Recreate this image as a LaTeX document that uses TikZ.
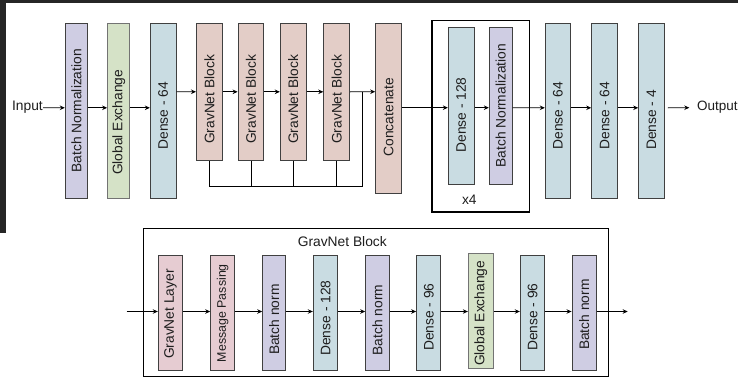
\documentclass[tikz,border=0pt]{standalone}
\usepackage{fontspec}
\setmainfont{Liberation Sans}
\usetikzlibrary{arrows.meta}
\definecolor{cbn}{HTML}{CFCDE3}
\definecolor{cge}{HTML}{D5E2C7}
\definecolor{cde}{HTML}{C9DCE2}
\definecolor{cgn}{HTML}{E3CDC7}
\definecolor{cgl}{HTML}{E6CCD2}
\definecolor{cbd}{HTML}{404040}
\definecolor{ctx}{HTML}{1E1E1E}
\begin{document}
\begin{tikzpicture}[x=1pt,y=-1pt,
  blk/.style={draw=cbd,line width=1pt,minimum width=#1,minimum height=175pt,inner sep=0pt,anchor=center},
  blk/.default=25pt,
  txt/.style={rotate=90,font=\fontsize{13.8}{15}\selectfont,text=ctx,inner sep=0pt},
  lbl/.style={font=\fontsize{13.8}{15}\selectfont,text=ctx,inner sep=0pt},
  arr/.style={line width=0.9pt,-{Stealth[length=5pt,width=4.5pt]}},
  ln/.style={line width=0.9pt},
  frame/.style={draw=black,line width=1.3pt}]
\useasboundingbox (0,0) rectangle (738,388);
\fill[white] (0,0) rectangle (738,388);
% screenshot edge bands
\fill[black!85] (0,0) rectangle (738,3.3);
\fill[black!85] (0,0) rectangle (6,233);

% ---------- top row ----------
\node[lbl,anchor=east] (in) at (43,107) {Input};
\node[blk=22.4pt,fill=cbn] (bn1) at (76.5,110.8) {};
\node[txt] (bn1t) at (bn1.center) {Batch Normalization};
\node[blk=22.3pt,fill=cge,draw=black!55] (ge1) at (118.8,110.8) {};
\node[txt] (ge1t) at ([yshift=-11.5pt]ge1.center) {Global Exchange};
\node[blk=25.7pt,fill=cde] (d1) at (163.2,110.8) {};
\node[txt] (d1t) at ([yshift=-5pt]d1.center) {Dense - 64};

\foreach \n/\x in {1/209.4,2/251,3/293.2,4/336.7}{
  \node[blk=25.8pt,fill=cgn,minimum height=137pt] (gn\n) at (\x,91.8) {};
  \node[txt] (gn\n t) at ([yshift=-7.6pt]gn\n.center) {GravNet Block};
}
\node[blk=25.6pt,fill=cgn,minimum height=170pt] (cc) at (388.5,108.3) {};
\node[txt] (cct) at ([yshift=-8.9pt]cc.center) {Concatenate};

\draw[frame] (432,20.7) rectangle (529.3,212);
\node[lbl] (x4) at (469.3,199.5) {x4};
\node[blk=25.7pt,fill=cde,minimum height=156.7pt] (d2) at (461.2,105.7) {};
\node[txt] (d2t) at ([yshift=-9.3pt]d2.center) {Dense - 128};
\node[blk=22.7pt,fill=cbn,minimum height=156.7pt] (bn2) at (500.7,105.7) {};
\node[txt] (bn2t) at (bn2.center) {Batch Normalization};

\node[blk=25pt,fill=cde] (d3) at (557.8,110.8) {};
\node[txt] (d3t) at ([yshift=-5pt]d3.center) {Dense - 64};
\node[blk=25.6pt,fill=cde] (d4) at (604.5,110.8) {};
\node[txt] (d4t) at ([yshift=-5pt]d4.center) {Dense - 64};
\node[blk=25.6pt,fill=cde] (d5) at (651.5,110.8) {};
\node[txt] (d5t) at ([yshift=-9.2pt]d5.center) {Dense - 4};
\node[lbl,anchor=west,font=\fontsize{13.5}{15}\selectfont] (out) at (697,107) {Output};

% top connectors
\draw[arr] (in.east|-0,107.7) -- ([yshift=3pt]bn1.west);
\draw[arr] ([yshift=3pt]bn1.east) -- ([yshift=3pt]ge1.west);
\draw[arr] ([yshift=3pt]ge1.east) -- ([yshift=3pt]d1.west);
\draw[arr] ([yshift=19.1pt]d1.east) -- (gn1.west);
\draw[arr] (gn1.east) -- (gn2.west);
\draw[arr] (gn2.east) -- (gn3.west);
\draw[arr] (gn3.east) -- (gn4.west);
\draw[arr] (gn4.east) -- ([yshift=16.6pt]cc.west);
\coordinate (fbt) at (362.7,91.7);
\coordinate (fbb) at (362.7,186.7);
\draw[ln] (fbt) -- (fbb) -- (gn1.south|-fbb) -- (gn1.south);
\foreach \n in {2,3,4}{\draw[ln] (gn\n.south) -- (gn\n.south|-fbb);}
\draw[arr] ([yshift=0.6pt]cc.east) -- ([yshift=-2pt]d2.west);
\draw[arr] ([yshift=-2pt]d2.east) -- ([yshift=-2pt]bn2.west);
\draw[arr] ([yshift=-2pt]bn2.east) -- ([yshift=3pt]d3.west);
\draw[arr] ([yshift=3pt]d3.east) -- ([yshift=3pt]d4.west);
\draw[arr] ([yshift=3pt]d4.east) -- ([yshift=3pt]d5.west);
\draw[arr] ([xshift=3pt,yshift=3pt]d5.east) -- ([xshift=-7.7pt]out.west|-0,107.7);

% ---------- GravNet block detail ----------
\draw[frame] (143.7,228.5) rectangle (608.7,376.5);
\node[lbl] (title) at (342.3,241.7) {GravNet Block};
\node[blk=24.4pt,fill=cgl,minimum height=114.8pt] (b1) at (170.5,313.1) {};
\node[txt] (b1t) at ([yshift=-1pt]b1.center) {GravNet Layer};
\node[blk=24pt,fill=cgl,minimum height=114.8pt] (b2) at (222.7,313.1) {};
\node[txt,font=\fontsize{12.4}{14}\selectfont] (b2t) at (b2.center) {Message Passing};
\node[blk=23pt,fill=cbn,minimum height=114.8pt] (b3) at (274.2,313.1) {};
\node[txt] (b3t) at ([yshift=-6.6pt]b3.center) {Batch norm};
\node[blk=24.4pt,fill=cde,minimum height=114.8pt] (b4) at (325.5,313.1) {};
\node[txt] (b4t) at ([yshift=-5pt]b4.center) {Dense - 128};
\node[blk=23.6pt,fill=cbn,minimum height=114.8pt] (b5) at (377.5,313.1) {};
\node[txt] (b5t) at ([yshift=-7pt]b5.center) {Batch norm};
\node[blk=24.3pt,fill=cde,minimum height=114.8pt] (b6) at (428.8,313.1) {};
\node[txt] (b6t) at ([yshift=-4pt]b6.center) {Dense - 96};
\node[blk=24.7pt,fill=cge,draw=black!55,minimum height=115.3pt] (b7) at (480.7,311.3) {};
\node[txt] (b7t) at ([yshift=-2pt]b7.center) {Global Exchange};
\node[blk=24.4pt,fill=cde,minimum height=114.8pt] (b8) at (532.5,313.1) {};
\node[txt] (b8t) at ([yshift=-4pt]b8.center) {Dense - 96};
\node[blk=24.3pt,fill=cbn,minimum height=114.8pt] (b9) at (584.2,313.1) {};
\node[txt] (b9t) at ([yshift=-1.6pt]b9.center) {Batch norm};

\coordinate (bin) at (126.7,311.5);
\coordinate (bout) at (627.7,311.5);
\draw[arr] (bin) -- ([yshift=1.6pt]b1.west);
\draw[arr] ([yshift=1.6pt]b1.east) -- ([yshift=1.6pt]b2.west);
\draw[arr] ([yshift=1.6pt]b2.east) -- ([yshift=1.6pt]b3.west);
\draw[arr] ([yshift=1.6pt]b3.east) -- ([yshift=1.6pt]b4.west);
\draw[arr] ([yshift=1.6pt]b4.east) -- ([yshift=1.6pt]b5.west);
\draw[arr] ([yshift=1.6pt]b5.east) -- ([yshift=1.6pt]b6.west);
\draw[arr] ([yshift=1.6pt]b6.east) -- (b7.west|-bin);
\draw[arr] (b7.east|-bin) -- ([yshift=1.6pt]b8.west);
\draw[arr] ([yshift=1.6pt]b8.east) -- ([yshift=1.6pt]b9.west);
\draw[arr] ([yshift=1.6pt]b9.east) -- (bout);
\end{tikzpicture}
\end{document}
